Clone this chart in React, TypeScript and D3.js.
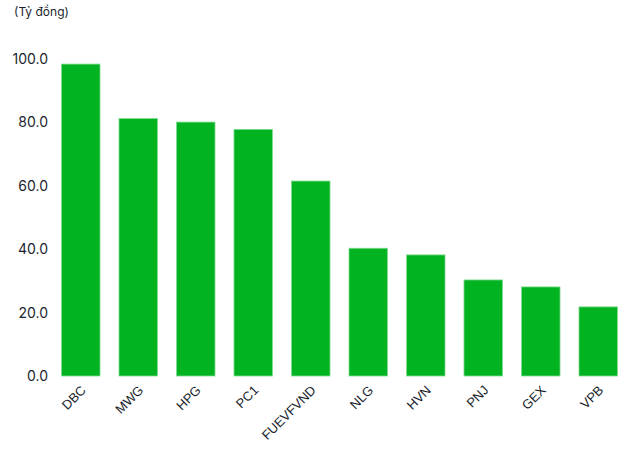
import React from "react";
import * as d3 from "d3";

const categories = ["DBC", "MWG", "HPG", "PC1", "FUEVFVND", "NLG", "HVN", "PNJ", "GEX", "VPB"];
const values = [98.4, 81.2, 80.1, 77.8, 61.5, 40.3, 38.2, 30.3, 28.1, 21.8];
const yTicks = [0, 20, 40, 60, 80, 100];
const unitLabel = "(Tỷ đồng)";

const W = 630;
const H = 456;
const left = 52;
const right = 627;
const y0 = 376;
const y100 = 59;
const font = "Inter, 'Noto Sans', sans-serif";
const xFont = "'Liberation Sans', Arial, sans-serif";
const textColor = "#1b1f2e";

export default function App() {
  const x = d3.scaleBand<string>().domain(categories).range([left, right]).paddingInner(0.33).paddingOuter(0.165);
  const y = d3.scaleLinear().domain([0, 100]).range([y0, y100]);
  return (
    <svg width={W} height={H} style={{ position: "absolute", left: 0, top: 0 }}>
      <text x={14} y={16} fontFamily={font} fontSize={12} fill={textColor}>{unitLabel}</text>
      {yTicks.map((t) => (
        <text key={t} x={48} y={y(t)} dy="0.35em" textAnchor="end" fontFamily={font} fontSize={14} fill={textColor}>
          {d3.format(".1f")(t)}
        </text>
      ))}
      {categories.map((c, i) => (
        <rect
          key={c}
          x={x(c)!}
          y={y(values[i])}
          width={x.bandwidth()}
          height={y(0) - y(values[i])}
          fill="#02b321"
          stroke="#7fdb8f"
          strokeWidth={0.8}
        />
      ))}
      {categories.map((c) => {
        const cx = x(c)! + x.bandwidth() / 2 + 6;
        const cy = 391;
        return (
          <text key={c} transform={`translate(${cx},${cy}) rotate(-45)`} textAnchor="end" fontFamily={xFont} fontSize={13} fill={textColor}>
            {c}
          </text>
        );
      })}
    </svg>
  );
}
